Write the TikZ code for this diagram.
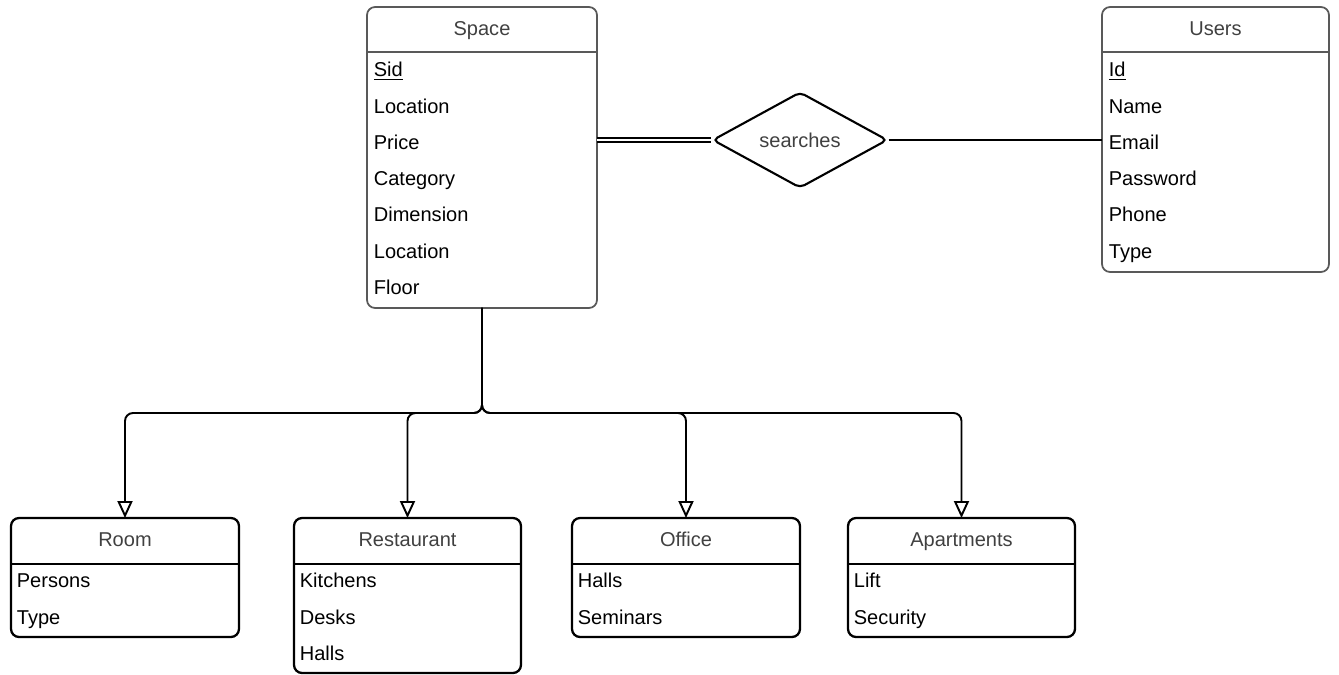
\documentclass[tikz,border=0pt]{standalone}
\usepackage{fontspec}
\setmainfont{Liberation Sans}
\usepackage{tikz}
\usetikzlibrary{shapes.geometric,arrows.meta}

\begin{document}
\begin{tikzpicture}[
    x=0.02cm, y=-0.02cm,
    every node/.style={font=\fontsize{11.4}{13.7}\selectfont},
    entity/.style={rectangle, draw=black!65, line width=1pt, rounded corners=0.16cm, inner sep=0, outer sep=0},
    subentity/.style={entity, draw=black, line width=1.3pt},
    etitle/.style={text=black!75, text height=0.29cm, text depth=0.08cm, inner sep=0},
    attr/.style={anchor=west, inner sep=0, text height=0.29cm, text depth=0.08cm},
    relation/.style={diamond, draw, line width=1.2pt, rounded corners=0.1cm, minimum width=3.5cm, minimum height=1.84cm, inner sep=0, text=black!75},
    link/.style={line width=1.1pt},
    isa/.style={line width=1.1pt, rounded corners=0.16cm, -{Triangle[open, length=0.34cm, width=0.3cm, line width=1.1pt]}}
]
\useasboundingbox (0,0) rectangle (1339,674);

% Entidades (posiciones manuales)
\node[entity, minimum width=4.6cm, minimum height=6.02cm] (space) at (482,157.5) {};
\node[entity, minimum width=4.54cm, minimum height=5.3cm] (users) at (1215.5,139.5) {};
\node[subentity, minimum width=4.56cm, minimum height=2.38cm] (room) at (125,577.5) {};
\node[subentity, minimum width=4.54cm, minimum height=3.1cm] (restaurant) at (407.5,595.5) {};
\node[subentity, minimum width=4.56cm, minimum height=2.38cm] (office) at (686,577.5) {};
\node[subentity, minimum width=4.54cm, minimum height=2.38cm] (apartments) at (961.5,577.5) {};
\node[relation] (searches) at (800,140) {searches};

% Cabeceras
\foreach \n/\t in {space/Space,users/Users,room/Room,restaurant/Restaurant,office/Office,apartments/Apartments}
  \node[etitle] (\n-title) at ([yshift=-0.46cm]\n.north) {\t};
\foreach \n in {space,users}
  \draw[black!65, line width=1pt] ([yshift=-0.9cm]\n.north west) -- ([yshift=-0.9cm]\n.north east);
\foreach \n in {room,restaurant,office,apartments}
  \draw[line width=1.3pt] ([yshift=-0.92cm]\n.north west) -- ([yshift=-0.92cm]\n.north east);

% Atributos
\foreach \a [count=\i] in {\underline{Sid},Location,Price,Category,Dimension,Location,Floor}
  \node[attr] (space-\i) at ([xshift=0.13cm, yshift={-1.29cm-0.726cm*(\i-1)}]space.north west) {\a};
\foreach \a [count=\i] in {\underline{Id},Name,Email,Password,Phone,Type}
  \node[attr] (users-\i) at ([xshift=0.13cm, yshift={-1.29cm-0.726cm*(\i-1)}]users.north west) {\a};
\foreach \a [count=\i] in {Persons,Type}
  \node[attr] (room-\i) at ([xshift=0.11cm, yshift={-1.29cm-0.726cm*(\i-1)}]room.north west) {\a};
\foreach \a [count=\i] in {Kitchens,Desks,Halls}
  \node[attr] (restaurant-\i) at ([xshift=0.11cm, yshift={-1.29cm-0.726cm*(\i-1)}]restaurant.north west) {\a};
\foreach \a [count=\i] in {Halls,Seminars}
  \node[attr] (office-\i) at ([xshift=0.11cm, yshift={-1.29cm-0.726cm*(\i-1)}]office.north west) {\a};
\foreach \a [count=\i] in {Lift,Security}
  \node[attr] (apartments-\i) at ([xshift=0.11cm, yshift={-1.29cm-0.726cm*(\i-1)}]apartments.north west) {\a};

% Relacion
\draw[link, line width=1pt, double, double distance=0.05cm] (space.east |- searches) -- (searches.west);
\draw[link] (searches.east) -- (users.west |- searches.east);

% Especializacion
\coordinate (split) at (482,413);
\foreach \n in {room,restaurant,office,apartments}
  \draw[isa] (space.south) -- (split) -| (\n.north);

\end{tikzpicture}
\end{document}
